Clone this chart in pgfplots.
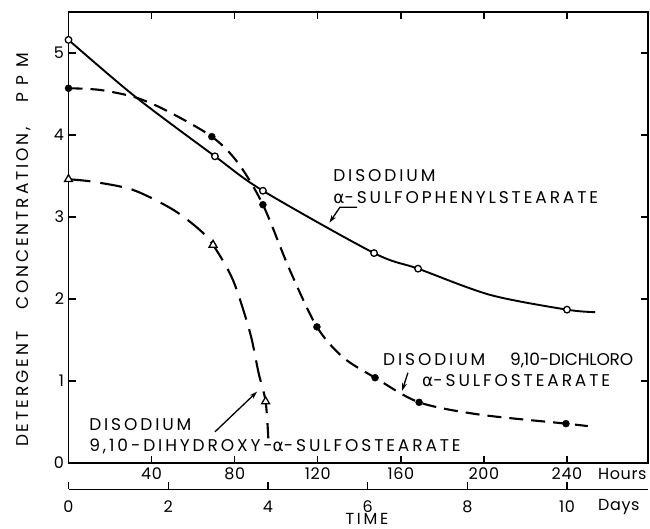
\documentclass[border=0pt]{standalone}
\usepackage{fontspec}
\setmainfont{Poppins}
\newfontfamily\lbl{Poppins}[LetterSpace=17]
\newfontfamily\tck{Poppins}[LetterSpace=4]
\newfontfamily\grk{DejaVu Sans}[LetterSpace=17]
\usepackage{pgfplots}
\pgfplotsset{compat=1.18}
\usetikzlibrary{arrows.meta}
\newcommand{\al}{{\grk α}}
\newcommand{\lfont}{\fontsize{17}{20}\selectfont\lbl}
\newcommand{\tfont}{\fontsize{16}{19}\selectfont\tck}
\begin{document}
\begin{tikzpicture}
\useasboundingbox (0,0) rectangle (650pt,529pt);
\begin{axis}[
  scale only axis, width=579.5pt, height=451pt,
  at={(68.5pt,66pt)}, anchor=south west,
  xmin=0, xmax=279, ymin=0, ymax=5.5,
  xtick={0,40,...,240}, xticklabels={,40,80,120,160,200,240},
  ytick={0,1,2,3,4,5},
  tick align=inside, major tick length=7pt,
  every tick/.style={black, line width=1.4pt},
  axis line style={line width=1.8pt},
  tick label style={font=\tfont},
  xticklabel style={yshift=-1.5pt},
  yticklabel style={xshift=-1pt},
  /pgf/number format/assume math mode=true,
  clip=false,
  xlabel={TIME},
  every axis x label/.style={at={(axis description cs:0.515,-0.136)}, anchor=base, inner sep=0pt, font=\fontsize{16}{19}\selectfont\lbl},
  ylabel={DETERGENT\hspace{22pt}CONCENTRATION,\hspace{24pt}{\addfontfeature{LetterSpace=45}PPM}},
  every axis y label/.style={at={(rel axis cs:0,0.472)}, xshift=-45pt, rotate=90, anchor=center, inner sep=0pt, font=\lfont},
]
% curve A: disodium alpha-sulfophenylstearate
\addplot[black, line width=1.9pt, smooth, tension=0.5] coordinates {
 (0,5.16) (32,4.47) (70.5,3.74) (93.6,3.32) (147.1,2.56) (168.3,2.37) (203,2.05) (240,1.87) (253.5,1.84)};
% curve B: disodium 9,10-dichloro alpha-sulfostearate
\addplot[black, line width=2.1pt, dash pattern=on 14pt off 8pt, smooth, tension=0.5] coordinates {
 (0,4.57) (15,4.55) (32,4.46) (47,4.30) (69,3.98) (81.6,3.66) (93.6,3.15) (106.6,2.35) (119.6,1.66) (132.1,1.29) (147.6,1.04) (168.8,0.74) (198,0.59) (239.5,0.48) (250,0.45)};
% curve C: disodium 9,10-dihydroxy alpha-sulfostearate
\addplot[black, line width=2.1pt, dash pattern=on 22pt off 10pt, smooth, tension=0.5] coordinates {
 (0,3.46) (11.8,3.43) (31.1,3.33) (50.3,3.09) (63.3,2.84) (69.6,2.66) (79.2,2.23) (87.4,1.59) (91.5,1.10) (94.9,0.75) (96.2,0.30)};
% measured points
\addplot[only marks, mark=*, mark size=3.3pt, mark options={fill=white, draw=black, line width=1.3pt, solid}] coordinates {
 (0,5.16) (70.5,3.74) (93.6,3.32) (147.1,2.56) (168.3,2.37) (240,1.87)};
\addplot[only marks, mark=*, mark size=3.5pt, mark options={fill=black, draw=black, solid}] coordinates {
 (0,4.57) (69,3.98) (93.6,3.15) (119.6,1.66) (147.6,1.04) (168.8,0.74) (239.5,0.48)};
\addplot[only marks, mark=triangle*, mark size=4.6pt, mark options={fill=white, draw=black, line width=1.3pt, solid}] coordinates {
 (0,3.46) (69.6,2.66) (94.9,0.75)};
% labels and pointers
\node[anchor=base west, inner sep=0pt, font=\lfont] at (axis cs:127.4,3.43) {DISODIUM};
\node[anchor=base west, inner sep=0pt, font=\lfont] at (axis cs:127.4,3.17) {\al-SULFOPHENYLSTEARATE};
\draw[line width=1.3pt, -{Stealth[length=8pt,width=5pt]}] (axis cs:138.9,3.12) -- (axis cs:130.7,3.12) -- (axis cs:125.6,2.93);
\node[anchor=base west, inner sep=0pt, font=\lfont] at (axis cs:151.4,1.195) {DISODIUM\hspace{25pt}{\addfontfeature{LetterSpace=-1}9,10-DICHLORO}};
\node[anchor=base west, inner sep=0pt, font=\lfont] at (axis cs:170.2,0.927) {\al-SULFOSTEARATE};
\draw[line width=1.3pt, -{Stealth[length=8pt,width=5pt]}] (axis cs:163.4,1.10) -- (axis cs:160.6,0.88);
\node[anchor=base west, inner sep=0pt, font=\lfont] at (axis cs:9.9,0.402) {DISODIUM};
\node[anchor=base west, inner sep=0pt, font=\lfont] at (axis cs:9.9,0.138) {9,10-DIHYDROXY-\al-SULFOSTEARATE};
\draw[line width=1.3pt, -{Stealth[length=8pt,width=5pt]}] (axis cs:70.5,0.38) -- (axis cs:90.8,0.87);
\node[anchor=base west, inner sep=0pt, font=\tfont] at (axis cs:254.9,-0.207) {Hours};
\node[anchor=base west, inner sep=0pt, font=\tfont] at (axis cs:254.9,-0.585) {Days};
\end{axis}
% second time scale in days
\begin{axis}[
  scale only axis, width=579.5pt, height=20pt,
  at={(68.5pt,39.5pt)}, anchor=south west,
  xmin=0, xmax=11.625, ymin=0, ymax=1,
  axis x line*=bottom, axis y line=none,
  xtick={0,2,...,10}, ytick=\empty,
  tick align=inside, major tick length=7pt,
  every tick/.style={black, line width=1.4pt},
  axis line style={line width=1.5pt},
  tick label style={font=\tfont, inner sep=0pt},
  xticklabel style={yshift=-11pt},
  /pgf/number format/assume math mode=true,
]
\addplot[draw=none] coordinates {(0,0) (1,1)};
\end{axis}
\end{tikzpicture}
\end{document}
